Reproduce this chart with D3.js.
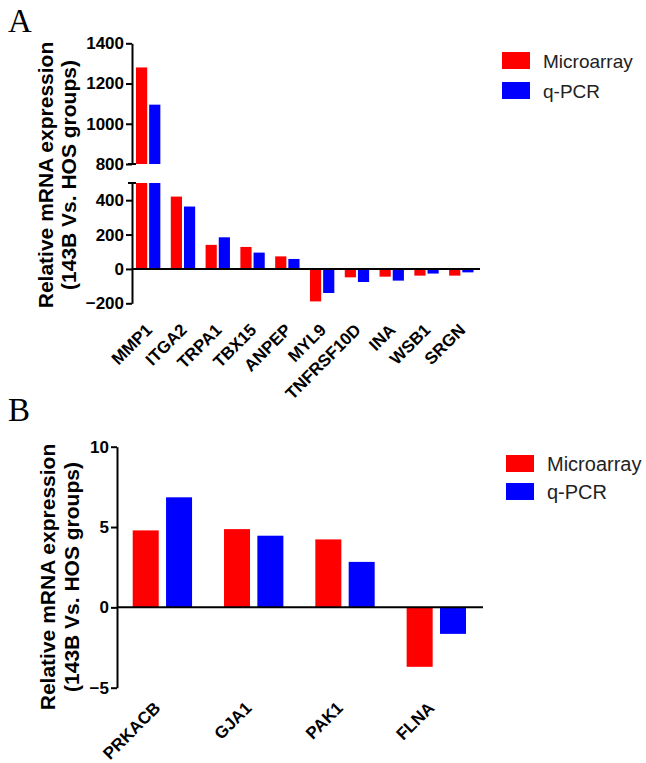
<!DOCTYPE html>
<html>
<head>
<meta charset="utf-8">
<script src="https://cdn.jsdelivr.net/npm/d3@7"></script>
<style>
  body { margin: 0; background: #fff; }
  text { font-family: "Liberation Sans", Arial, sans-serif; }
</style>
</head>
<body>
<script>
// data
var seriesNames = ["Microarray", "q-PCR"];
var seriesColors = ["#ff0000", "#0000ff"];

var genesA = ["MMP1", "ITGA2", "TRPA1", "TBX15", "ANPEP", "MYL9", "TNFRSF10D", "INA", "WSB1", "SRGN"];
var microA = [1280, 421, 140, 128, 73, -189, -49, -45, -39, -39];
var qpcrA = [1095, 363, 184, 95, 58, -140, -76, -68, -27, -20];
var ticksATop = [800, 1000, 1200, 1400];
var ticksABot = [-200, 0, 200, 400];

var genesB = ["PRKACB", "GJA1", "PAK1", "FLNA"];
var microB = [4.79, 4.87, 4.23, -3.7];
var qpcrB = [6.85, 4.46, 2.83, -1.65];
var ticksB = [-5, 0, 5, 10];

var svg = d3.select("body").append("svg")
  .attr("width", 646)
  .attr("height", 763);

svg.append("rect").attr("width", 646).attr("height", 763).attr("fill", "#fff");

// panel letters
svg.append("text").attr("x", 8).attr("y", 32).text("A")
  .style("font-family", "'Liberation Serif', 'Times New Roman', serif").style("font-size", "33px");
svg.append("text").attr("x", 8).attr("y", 421).text("B")
  .style("font-family", "'Liberation Serif', 'Times New Roman', serif").style("font-size", "33px");

function styleAxis(g) {
  g.selectAll("path, line").attr("stroke", "#000").attr("stroke-width", 2);
  g.selectAll("text").style("font-size", "17px").style("font-weight", "bold").attr("fill", "#000");
}

function yLabel(cx, cy, y1, y2) {
  var g = svg.append("g").attr("transform", "translate(" + cx + "," + cy + ") rotate(-90)");
  g.append("text").attr("text-anchor", "middle").attr("y", y1)
    .style("font-size", "21px").style("font-weight", "bold").text("Relative mRNA expression");
  g.append("text").attr("text-anchor", "middle").attr("y", y2)
    .style("font-size", "21px").style("font-weight", "bold").text("(143B Vs. HOS groups)");
}

function legend(x, y, gap, fs) {
  var g = svg.append("g").attr("transform", "translate(" + x + "," + y + ")");
  seriesNames.forEach(function (s, i) {
    g.append("rect").attr("x", 0).attr("y", i * gap).attr("width", 28).attr("height", 17)
      .attr("fill", seriesColors[i]);
    g.append("text").attr("x", 41).attr("y", i * gap + 15.5)
      .style("font-size", fs).attr("fill", "#222").text(s);
  });
}

// ---------- panel A (broken axis) ----------
var axA = 132;
var yTop = d3.scaleLinear().domain([800, 1400]).range([164, 43.3]);
var yBot = d3.scaleLinear().domain([-200, 500]).range([303.3, 183]);

var x0A = d3.scaleBand().domain(genesA).range([136, 473.5]).paddingInner(0.3).paddingOuter(0);
var x1A = d3.scaleBand().domain(seriesNames).range([0, x0A.bandwidth()]).paddingInner(0.15);

var rowsA = genesA.map(function (g, i) { return { gene: g, vals: [microA[i], qpcrA[i]] }; });

var gA = svg.append("g");
rowsA.forEach(function (r) {
  r.vals.forEach(function (v, j) {
    var x = x0A(r.gene) + x1A(seriesNames[j]);
    if (v > 500) {
      gA.append("rect").attr("x", x).attr("width", x1A.bandwidth())
        .attr("y", yBot(500)).attr("height", yBot(0) - yBot(500)).attr("fill", seriesColors[j]);
      gA.append("rect").attr("x", x).attr("width", x1A.bandwidth())
        .attr("y", yTop(v)).attr("height", yTop(800) - yTop(v)).attr("fill", seriesColors[j]);
    } else {
      gA.append("rect").attr("x", x).attr("width", x1A.bandwidth())
        .attr("y", yBot(Math.max(0, v))).attr("height", Math.abs(yBot(v) - yBot(0)))
        .attr("fill", seriesColors[j]);
    }
  });
});

var fmt = d3.format("d");
var axTop = svg.append("g").attr("transform", "translate(" + axA + ",0)")
  .call(d3.axisLeft(yTop).tickValues(ticksATop).tickFormat(fmt).tickSize(6).tickSizeOuter(0).tickPadding(2));
styleAxis(axTop);
var axBot = svg.append("g").attr("transform", "translate(" + axA + ",0)")
  .call(d3.axisLeft(yBot).tickValues(ticksABot).tickFormat(fmt).tickSize(6).tickSizeOuter(0).tickPadding(2));
styleAxis(axBot);

// break caps
[yTop(800), yBot(500)].forEach(function (y) {
  svg.append("line").attr("x1", axA - 4).attr("x2", axA + 4).attr("y1", y).attr("y2", y)
    .attr("stroke", "#000").attr("stroke-width", 2);
});

// zero line
svg.append("line").attr("x1", axA).attr("x2", 480).attr("y1", yBot(0)).attr("y2", yBot(0))
  .attr("stroke", "#000").attr("stroke-width", 2);

// category labels
svg.append("g").selectAll("text").data(genesA).enter().append("text")
  .attr("transform", function (d) {
    return "translate(" + (x0A(d) + x0A.bandwidth() / 2 + 5) + "," + 331 + ") rotate(-45)";
  })
  .attr("text-anchor", "end")
  .style("font-size", "17px").style("font-weight", "bold")
  .text(function (d) { return d; });

yLabel(0, 175, 53, 76);
legend(502, 52, 30, "19px");

// ---------- panel B ----------
var axB = 117;
var yB = d3.scaleLinear().domain([-5, 10]).range([687.7, 446.7]);
var x0B = d3.scaleBand().domain(genesB).range([132.7, 466]).paddingInner(0.35).paddingOuter(0);
var x1B = d3.scaleBand().domain(seriesNames).range([0, x0B.bandwidth()]).paddingInner(0.22);

var rowsB = genesB.map(function (g, i) { return { gene: g, vals: [microB[i], qpcrB[i]] }; });

svg.append("g").selectAll("g").data(rowsB).enter().append("g")
  .attr("transform", function (d) { return "translate(" + x0B(d.gene) + ",0)"; })
  .selectAll("rect")
  .data(function (d) { return d.vals.map(function (v, j) { return { s: seriesNames[j], v: v, c: seriesColors[j] }; }); })
  .enter().append("rect")
  .attr("x", function (d) { return x1B(d.s); })
  .attr("width", x1B.bandwidth())
  .attr("y", function (d) { return yB(Math.max(0, d.v)); })
  .attr("height", function (d) { return Math.abs(yB(d.v) - yB(0)); })
  .attr("fill", function (d) { return d.c; });

var axisB = svg.append("g").attr("transform", "translate(" + axB + ",0)")
  .call(d3.axisLeft(yB).tickValues(ticksB).tickFormat(fmt).tickSize(6).tickSizeOuter(0).tickPadding(2));
styleAxis(axisB);

svg.append("line").attr("x1", axB).attr("x2", 483).attr("y1", yB(0)).attr("y2", yB(0))
  .attr("stroke", "#000").attr("stroke-width", 2);

svg.append("g").selectAll("text").data(genesB).enter().append("text")
  .attr("transform", function (d) {
    return "translate(" + (x0B(d) + x0B.bandwidth() / 2 - 1) + "," + 709 + ") rotate(-45)";
  })
  .attr("text-anchor", "end")
  .style("font-size", "17px").style("font-weight", "bold")
  .text(function (d) { return d; });

yLabel(0, 577, 55, 79);
legend(506, 455, 28, "20px");
</script>
</body>
</html>
